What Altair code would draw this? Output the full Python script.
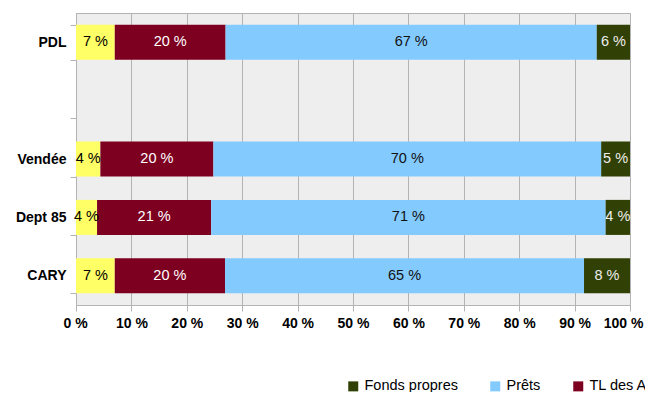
import altair as alt
import pandas as pd

# Data (percent shares)
categories = ["PDL", "Vendée", "Dept 85", "CARY"]
y_domain = ["PDL", " ", "Vendée", "Dept 85", "CARY"]
stack_series = ["Autres", "TL des Aides", "Prêts", "Fonds propres"]  # left -> right
autres = [7.0, 4.4, 3.8, 7.0]
tl_aides = [20.0, 20.4, 20.6, 19.9]
prets = [67.0, 70.0, 71.2, 64.8]
fonds_propres = [6.0, 5.2, 4.4, 8.3]

legend_order = ["Fonds propres", "Prêts", "TL des Aides", "Autres"]
legend_colors = ["#314004", "#83caff", "#7e0021", "#ffff66"]
label_colors = {"Autres": "#000000", "TL des Aides": "#ffffff",
                "Prêts": "#111111", "Fonds propres": "#eeeeee"}
x_ticks = list(range(0, 101, 10))

values_by_series = {"Autres": autres, "TL des Aides": tl_aides,
                    "Prêts": prets, "Fonds propres": fonds_propres}

rows = []
for i, cat in enumerate(categories):
    start = 0.0
    for s in stack_series:
        v = values_by_series[s][i]
        rows.append({"cat": cat, "series": s, "start": start, "end": start + v,
                     "mid": start + v / 2, "label": f"{round(v)} %",
                     "tcolor": label_colors[s]})
        start += v
df = pd.DataFrame(rows)

FONT = "Liberation Sans"

y_enc = alt.Y("cat:N",
              scale=alt.Scale(domain=y_domain, paddingInner=0.4, paddingOuter=0.2),
              axis=alt.Axis(title=None, labelFont=FONT, labelFontWeight="bold",
                            labelFontSize=14, labelColor="#000000", tickBand="extent",
                            grid=False, tickColor="#b3b3b3", domainColor="#b3b3b3",
                            tickSize=6, labelPadding=4))

bars = alt.Chart(df).mark_bar().encode(
    y=y_enc,
    x=alt.X("start:Q", scale=alt.Scale(domain=[0, 100], nice=False),
            axis=alt.Axis(title=None, values=x_ticks, labelExpr="datum.value + ' %'",
                          labelFont=FONT, labelFontWeight="bold", labelFontSize=14,
                          labelColor="#000000", grid=True, gridColor="#b3b3b3",
                          tickColor="#b3b3b3", domainColor="#b3b3b3", tickSize=6,
                          labelPadding=5, labelFlush=True, labelFlushOffset=13)),
    x2="end:Q",
    color=alt.Color("series:N",
                    scale=alt.Scale(domain=legend_order, range=legend_colors),
                    legend=alt.Legend(title=None, orient="none", legendX=270, legendY=366,
                                      direction="horizontal", symbolType="square",
                                      symbolSize=100, symbolStrokeWidth=0,
                                      labelFont=FONT, labelFontSize=14.5,
                                      labelColor="#000000", labelOffset=4,
                                      columnPadding=30, padding=0)),
)

texts = alt.Chart(df).mark_text(font=FONT, fontSize=14.5).encode(
    y=alt.Y("cat:N", scale=alt.Scale(domain=y_domain)),
    x=alt.X("mid:Q"),
    text="label:N",
    color=alt.Color("tcolor:N", scale=None),
)

chart = alt.layer(bars, texts).properties(
    width=554, height=292,
    autosize=alt.AutoSizeParams(type="none"),
    padding={"left": 68, "top": 5, "right": 15, "bottom": 87},
).configure_view(fill="#eeeeee", stroke="#b3b3b3")

chart.save("out.html", embed_options={"renderer": "svg", "actions": False})
